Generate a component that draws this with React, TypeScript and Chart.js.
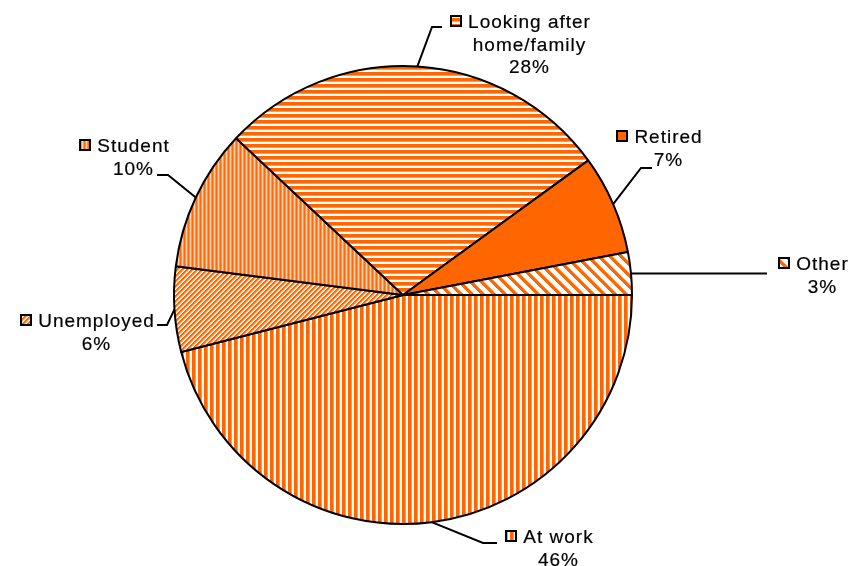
import React, { useEffect, useRef } from "react";
import { Chart, registerables } from "chart.js";

Chart.register(...registerables);

// ---- data ----
const categories = ["At work", "Unemployed", "Student", "Looking after home/family", "Retired", "Other"];
const labelLines = [["At work"], ["Unemployed"], ["Student"], ["Looking after", "home/family"], ["Retired"], ["Other"]];
const shares = [46, 6, 10, 28, 7, 3];
const percentLabels = ["46%", "6%", "10%", "28%", "7%", "3%"];

// ---- layout of callout labels (text centre x, first baseline y, leader bend points; null y = keep start y) ----
const labelLayout: { cx: number; y: number; path: (number | null)[][] }[] = [
  { cx: 558, y: 543, path: [[483, 543], [497, 543]] },
  { cx: 96, y: 327, path: [[167, 325], [157, 325]] },
  { cx: 133, y: 152, path: [[168, 175], [157, 175]] },
  { cx: 529, y: 28, path: [[432, 27], [442, 27]] },
  { cx: 668, y: 143, path: [[641, 168], [652, 168]] },
  { cx: 822, y: 270, path: [[767, null]] },
];

const ORANGE = "#FF6600";
const MID = "#FF9A55";
const PALE = "#FFFFFF";

type PixFn = (x: number, y: number) => string;

function makePattern(w: number, h: number, fn: PixFn): CanvasPattern {
  const c = document.createElement("canvas");
  c.width = w;
  c.height = h;
  const g = c.getContext("2d")!;
  for (let y = 0; y < h; y++) {
    for (let x = 0; x < w; x++) {
      g.fillStyle = fn(x, y);
      g.fillRect(x, y, 1, 1);
    }
  }
  return g.createPattern(c, "repeat")!;
}

function buildFills(): (CanvasPattern | string)[] {
  const atWork = makePattern(6, 6, (x) => (x % 6 < 3 ? ORANGE : x % 6 === 3 ? MID : PALE));
  const unemployed = makePattern(5, 5, (x, y) => {
    const k = (x + y) % 5;
    return k < 2 ? ORANGE : k === 2 ? MID : k === 3 ? "#FFD9BF" : PALE;
  });
  const student = makePattern(4, 4, (x) => {
    const k = x % 4;
    return k === 0 ? "#FF6A0A" : k === 2 ? "#FFD2B0" : "#FF9448";
  });
  const home = makePattern(6, 6, (_x, y) => (y % 6 < 3 ? ORANGE : y % 6 === 3 ? MID : PALE));
  const other = makePattern(11, 11, (x, y) => {
    const k = (((x - y) % 11) + 11) % 11;
    return k < 4 ? ORANGE : k === 4 ? MID : PALE;
  });
  return [atWork, unemployed, student, home, ORANGE, other];
}

const FONT = "19px 'Liberation Sans', Arial, sans-serif";
const SPACING = 1;

const calloutPlugin = {
  id: "callouts",
  afterDraw(chart: any) {
    const ctx: CanvasRenderingContext2D = chart.ctx;
    const meta = chart.getDatasetMeta(0);
    const fills = chart.data.datasets[0].backgroundColor;
    ctx.save();
    meta.data.forEach((arc: any, i: number) => {
      const p = arc.getProps(["x", "y", "startAngle", "endAngle", "outerRadius"], true);
      const mid = (p.startAngle + p.endAngle) / 2;
      const sx = p.x + Math.cos(mid) * p.outerRadius;
      const sy = p.y + Math.sin(mid) * p.outerRadius;
      const lay = labelLayout[i];
      // leader line
      ctx.beginPath();
      ctx.strokeStyle = "#000";
      ctx.lineWidth = 2;
      ctx.moveTo(sx, sy);
      lay.path.forEach((pt) => ctx.lineTo(pt[0] as number, pt[1] == null ? sy : pt[1]));
      ctx.stroke();
      // text
      ctx.font = FONT;
      (ctx as any).letterSpacing = SPACING + "px";
      ctx.fillStyle = "#000";
      ctx.strokeStyle = "#000";
      ctx.lineWidth = 0.2;
      ctx.textAlign = "center";
      ctx.textBaseline = "alphabetic";
      const lines = [...labelLines[i], percentLabels[i]];
      lines.forEach((ln, j) => {
        ctx.fillText(ln, lay.cx + SPACING / 2, lay.y + j * 22.5);
        ctx.strokeText(ln, lay.cx + SPACING / 2, lay.y + j * 22.5);
      });
      // legend key
      const w0 = ctx.measureText(lines[0]).width - SPACING;
      const left = lay.cx - w0 / 2;
      const ks = 10;
      const kx = Math.round(left - 7 - ks);
      const ky = Math.round(lay.y - 7.5 - ks / 2);
      ctx.fillStyle = fills[i];
      ctx.fillRect(kx, ky, ks, ks);
      ctx.lineWidth = 2;
      ctx.strokeStyle = "#000";
      ctx.strokeRect(kx, ky, ks, ks);
    });
    ctx.restore();
  },
};

export default function App() {
  const ref = useRef<HTMLCanvasElement | null>(null);
  useEffect(() => {
    if (!ref.current) return;
    const chart = new Chart(ref.current, {
      type: "pie",
      data: {
        labels: categories,
        datasets: [
          {
            data: shares,
            backgroundColor: buildFills() as any,
            borderColor: "#000000",
            borderWidth: 2,
          },
        ],
      },
      options: {
        animation: false,
        responsive: false,
        maintainAspectRatio: false,
        devicePixelRatio: 1,
        rotation: 90,
        layout: { padding: { left: 173, right: 217, top: 65, bottom: 41 } },
        plugins: {
          legend: { display: false },
          tooltip: { enabled: false },
        },
      },
      plugins: [calloutPlugin],
    });
    return () => chart.destroy();
  }, []);
  return (
    <div style={{ position: "absolute", left: 0, top: 0, width: 850, height: 566, background: "#fff" }}>
      <canvas ref={ref} width={850} height={566} style={{ width: 850, height: 566 }} />
    </div>
  );
}
